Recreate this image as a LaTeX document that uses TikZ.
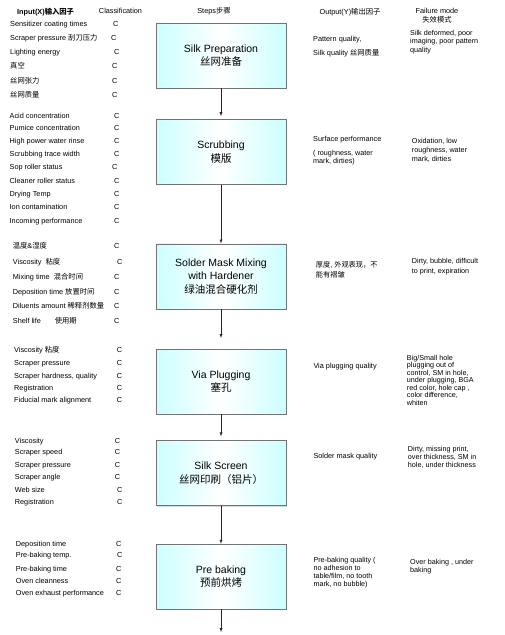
\documentclass[tikz,border=0pt]{standalone}
\usepackage{fontspec}
\setmainfont{Liberation Sans}
\newfontfamily\zhfont{Noto Sans CJK SC}
\newcommand{\zh}[1]{{\zhfont #1}}
\usetikzlibrary{positioning,shadows,arrows}

\begin{document}
\begin{tikzpicture}[x=1pt,y=-1pt,
  stepbox/.style={draw=gray!90!black,rectangle,minimum width=130pt,minimum height=65pt,align=center,
    left color=cyan!20,right color=cyan!20,middle color=white,
    drop shadow={shadow xshift=1pt,shadow yshift=-1pt,fill=gray!60},
    font=\fontsize{10.5}{13.5}\selectfont},
  head/.style={inner sep=0,font=\fontsize{7.3}{9}\selectfont},
  row/.style={anchor=base west,inner sep=0,yshift=-2.5pt,font=\fontsize{7.3}{9}\selectfont},
  note/.style={anchor=north west,align=left,inner sep=0,yshift=2.6pt,font=\fontsize{7.2}{#1}\selectfont},
  note/.default=8.3,
  flow/.style={draw=black!85,-latex}]
  \useasboundingbox (0,0) rectangle (504,635);

  % column heads
  \node (hin) [head,anchor=base west,yshift=-2.5pt] at (17,12) {\bfseries Input(X)\zh{输入因子}};
  \node (hcls) [head] at (120.5,11) {Classification};
  \node (hstep) [head] at (214,11) {Steps\zh{步骤}};
  \node (hout) [head] at (350,12) {Output(Y)\zh{输出因子}};
  \node (hfail) [head,align=center] at (437,15.5) {Failure mode\\\zh{失效模式}};

  % process steps
  \node (silk) [stepbox] at (221,55.5) {Silk Preparation\\\zh{丝网准备}};
  \node (scrub) [stepbox,below=31pt of silk] {Scrubbing\\\zh{模版}};
  \node (mix) [stepbox,below=59pt of scrub] {Solder Mask Mixing\\with Hardener\\\zh{绿油混合硬化剂}};
  \node (plug) [stepbox,below=40pt of mix] {Via Plugging\\\zh{塞孔}};
  \node (screen) [stepbox,below=26pt of plug] {Silk Screen\\\zh{丝网印刷（铝片）}};
  \node (bake) [stepbox,below=38pt of screen] {Pre baking\\\zh{预前烘烤}};
  \coordinate [below=23pt of bake] (next);

  \draw[flow,shorten >=3pt] (silk) -- (scrub);
  \draw[flow] (scrub) -- (mix);
  \draw[flow,shorten >=11pt] (mix) -- (plug);
  \draw[flow,shorten >=4pt] (plug) -- (screen);
  \draw[flow] (screen) -- (bake);
  \draw[flow] (bake) -- (next);

  % inputs X
  \foreach \txt/\yy/\cx [count=\i] in {{Sensitizer coating times}/24/113,{Scraper pressure \zh{刮刀压力}}/38/111,
      {Lighting energy}/52/114,{\zh{真空}}/66/112,{\zh{丝网张力}}/81/112,{\zh{丝网质量}}/95/112} {
    \node (xa\i) [row] at (10,\yy) {\txt};
    \node (ca\i) [row] at (\cx,\yy) {C};
  }
  \foreach \txt/\yy/\cx [count=\i] in {{Acid concentration}/115.7/114,{Pumice concentration}/128.3/114,
      {High power water rinse}/140.7/114,{Scrubbing trace width}/153.7/114,{Sop roller status}/167.3/112,
      {Cleaner roller status}/180.7/114,{Drying Temp}/194/114,{Ion contamination}/206.7/114,
      {Incoming performance}/220.7/114} {
    \node (xb\i) [row] at (9.5,\yy) {\txt};
    \node (cb\i) [row] at (\cx,\yy) {C};
  }
  \foreach \txt/\yy/\cx [count=\i] in {{\zh{温度}\&\zh{湿度}}/246/114,{Viscosity\ \ \zh{粘度}}/262/117,
      {Mixing time\ \ \zh{混合时间}}/276.7/114,{Deposition time \zh{放置时间}}/291.7/114,
      {Diluents amount \zh{稀释剂数量}}/306/114,{Shelf life\hspace{14pt}\zh{使用期}}/320.7/114} {
    \node (xc\i) [row] at (12.7,\yy) {\txt};
    \node (cc\i) [row] at (\cx,\yy) {C};
  }
  \foreach \txt/\yy/\cx [count=\i] in {{Viscosity\ \zh{粘度}}/350/116.7,{Scraper pressure}/363.3/116.7,
      {Scraper hardness, quality}/375.7/116.7,{Registration}/387.7/116.7,
      {Fiducial mark alignment}/400.3/116.7} {
    \node (xd\i) [row] at (14,\yy) {\txt};
    \node (cd\i) [row] at (\cx,\yy) {C};
  }
  \foreach \txt/\yy/\cx [count=\i] in {{Viscosity}/440.7/114.7,{Scraper speed}/452.3/114.7,
      {Scraper pressure}/465.3/114.7,{Scraper angle}/477.3/114.7,{Web size}/489.7/117,
      {Registration}/502.3/117} {
    \node (xe\i) [row] at (14.7,\yy) {\txt};
    \node (ce\i) [row] at (\cx,\yy) {C};
  }
  \foreach \txt/\yy/\cx [count=\i] in {{Deposition time}/544/116,{Pre-baking temp.}/555.3/117,
      {Pre-baking time}/568.7/116,{Oven cleanness}/580.7/116,{Oven exhaust performance}/592.7/116} {
    \node (xf\i) [row] at (15.7,\yy) {\txt};
    \node (cf\i) [row] at (\cx,\yy) {C};
  }

  % outputs Y
  \node (ya1) [row] at (313,39.3) {Pattern quality,};
  \node (ya2) [row] at (313,53.3) {Silk quality \zh{丝网质量}};
  \node (yb1) [row] at (313,139.3) {Surface performance};
  \node (yb2) [note=7.5] at (313,152.7) {( roughness, water\\mark, dirties)};
  \node (yc) [note=10] at (315.7,264.3) {\zh{厚度}, \zh{外观表现，不}\\\zh{能有褶皱}};
  \node (yd) [row] at (313.3,365.7) {Via plugging quality};
  \node (ye) [row] at (313.3,455.7) {Solder mask quality};
  \node (yf) [note=8] at (313.3,560) {Pre-baking quality (\\no adhesion to\\table/film, no tooth\\mark, no bubble)};

  % failure modes
  \node (fa) [note=8.8] at (410,32.3) {Silk deformed, poor\\imaging, poor pattern\\quality};
  \node (fb) [note=8.7] at (411.7,141) {Oxidation, low\\roughness, water\\mark, dirties};
  \node (fc) [note=10] at (411.7,261) {Dirty, bubble, difficult\\to print, expiration};
  \node (fd) [note=7.45] at (406.7,357.7) {Big/Small hole\\plugging out of\\control, SM in hole,\\under plugging, BGA\\red color, hole cap ,\\color difference,\\whiten};
  \node (fe) [note] at (407.7,448.3) {Dirty, missing print,\\over thickness, SM in\\hole, under thickness};
  \node (ff) [note] at (410,561.7) {Over baking , under\\baking};
\end{tikzpicture}
\end{document}
